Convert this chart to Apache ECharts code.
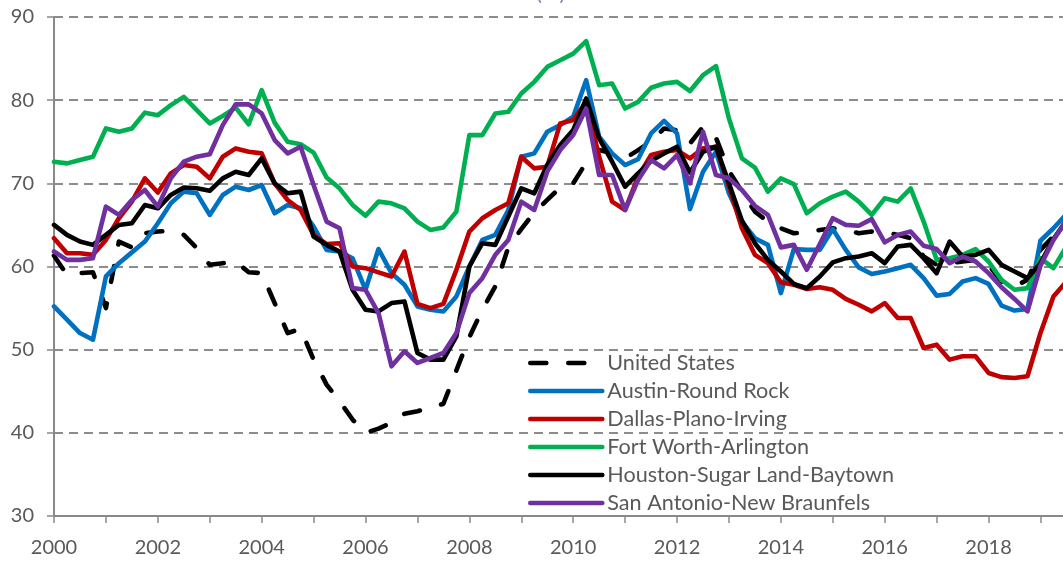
<!DOCTYPE html>
<html>
<head>
<meta charset="utf-8">
<script src="https://cdn.jsdelivr.net/npm/echarts@6/dist/echarts.min.js"></script>
<style>
  html, body { margin: 0; padding: 0; background: #ffffff; }
  #chart { width: 1063px; height: 561px; }
</style>
</head>
<body>
<div id="chart"></div>
<script>
// Quarterly series, 2000 Q1 onward (one value per quarter)
const seriesNames = [
  'United States',
  'Austin-Round Rock',
  'Dallas-Plano-Irving',
  'Fort Worth-Arlington',
  'Houston-Sugar Land-Baytown',
  'San Antonio-New Braunfels'
];

const unitedStates = [
  61.3, 59.0, 59.2, 59.3, 55.0, 63.0, 62.3, 64.0, 64.2, 64.3,
  63.8, 62.2, 60.2, 60.4, 60.6, 59.3, 59.2, 55.6, 52.0, 52.5,
  48.8, 45.8, 43.8, 41.6, 40.0, 40.5, 41.2, 42.3, 42.6, 43.0,
  43.5, 47.5, 51.5, 54.8, 57.6, 62.3, 64.5, 66.5, 68.0, 69.5,
  70.0, 72.5, 74.0, 73.6, 73.0, 74.0, 75.0, 76.6, 76.4, 74.8,
  76.8, 75.5, 71.5, 69.0, 66.6, 65.4, 64.6, 64.0, 64.1, 64.4,
  64.6, 64.4, 64.0, 64.2, 64.1, 63.8, 63.4, 61.2, 60.2, 60.4,
  60.6, 60.8, 60.2, 58.2, 57.6, 58.4, 62.0, 63.6, 65.0
];

const austin = [
  55.2, 53.6, 52.0, 51.2, 58.8, 60.4, 61.7, 63.0, 65.2, 67.6,
  69.0, 68.8, 66.2, 68.6, 69.6, 69.2, 69.8, 66.4, 67.4, 67.0,
  64.8, 62.0, 61.8, 61.0, 57.2, 62.1, 59.2, 57.8, 55.2, 54.8,
  54.6, 56.4, 60.0, 63.2, 63.8, 66.8, 73.2, 73.6, 76.2, 77.0,
  78.0, 82.4, 75.6, 73.6, 72.2, 72.9, 76.0, 77.5, 76.0, 66.9,
  71.4, 73.8, 68.8, 65.4, 63.4, 62.6, 56.8, 62.1, 62.0, 62.0,
  64.5, 62.0, 59.9, 59.1, 59.4, 59.8, 60.2, 58.6, 56.5, 56.7,
  58.2, 58.6, 57.9, 55.3, 54.7, 54.9, 63.1, 64.6, 66.3
];

const dallas = [
  63.4, 61.6, 61.6, 61.4, 63.2, 65.8, 67.8, 70.6, 68.9, 71.2,
  72.2, 72.0, 70.6, 73.2, 74.2, 73.8, 73.6, 70.0, 68.0, 66.8,
  63.8, 62.7, 62.8, 60.0, 59.8, 59.3, 58.8, 61.8, 55.5, 55.0,
  55.5, 59.6, 64.2, 65.8, 66.8, 67.6, 73.2, 71.8, 72.0, 77.2,
  77.6, 79.8, 73.2, 67.8, 66.8, 70.8, 73.4, 73.8, 74.0, 73.0,
  74.2, 74.4, 69.6, 64.6, 61.4, 60.4, 58.1, 57.8, 57.3, 57.5,
  57.2, 56.1, 55.4, 54.6, 55.6, 53.8, 53.8, 50.2, 50.6, 48.8,
  49.2, 49.2, 47.2, 46.7, 46.6, 46.8, 52.0, 56.4, 58.2
];

const fortWorth = [
  72.6, 72.4, 72.8, 73.2, 76.6, 76.2, 76.6, 78.5, 78.2, 79.4,
  80.4, 78.8, 77.2, 78.1, 79.1, 77.1, 81.2, 77.3, 75.0, 74.7,
  73.7, 70.7, 69.4, 67.4, 66.1, 67.8, 67.6, 67.0, 65.4, 64.4,
  64.7, 66.6, 75.8, 75.8, 78.4, 78.6, 80.8, 82.2, 84.0, 84.8,
  85.6, 87.1, 81.8, 82.0, 79.0, 79.8, 81.5, 82.0, 82.2, 81.1,
  83.0, 84.1, 77.8, 73.0, 71.9, 69.0, 70.6, 69.9, 66.4, 67.6,
  68.4, 69.0, 67.8, 66.2, 68.2, 67.8, 69.4, 65.4, 60.8, 61.0,
  61.4, 62.1, 60.6, 58.4, 57.2, 57.4, 61.0, 59.8, 62.4
];

const houston = [
  65.0, 63.8, 63.0, 62.6, 63.8, 65.0, 65.2, 67.4, 67.0, 68.6,
  69.5, 69.4, 69.1, 70.6, 71.4, 71.0, 73.0, 70.0, 68.8, 69.0,
  63.6, 62.6, 61.8, 57.2, 54.8, 54.6, 55.6, 55.8, 49.6, 48.8,
  48.8, 51.6, 60.0, 62.8, 62.6, 66.0, 69.4, 68.8, 72.2, 74.6,
  76.4, 80.2, 75.4, 72.6, 69.6, 71.2, 72.7, 73.6, 74.4, 71.3,
  73.8, 74.4, 70.0, 65.5, 62.8, 60.8, 59.4, 57.9, 57.4, 58.8,
  60.5, 61.0, 61.2, 61.6, 60.4, 62.4, 62.6, 61.0, 59.2, 63.0,
  61.2, 61.4, 62.0, 60.2, 59.4, 58.6, 60.4, 63.3, 65.5
];

const sanAntonio = [
  61.8, 60.8, 60.8, 61.0, 67.2, 66.2, 68.0, 69.2, 67.2, 70.6,
  72.6, 73.2, 73.5, 77.0, 79.5, 79.5, 78.4, 75.2, 73.6, 74.4,
  69.8, 65.4, 64.6, 57.4, 57.2, 54.4, 48.0, 49.8, 48.4, 49.0,
  49.6, 52.0, 56.8, 58.6, 61.4, 63.2, 67.8, 66.8, 71.4, 74.0,
  75.8, 79.0, 71.0, 71.0, 66.8, 70.4, 72.8, 71.8, 73.4, 70.0,
  76.2, 71.0, 70.6, 69.2, 67.3, 66.2, 62.3, 62.6, 59.6, 62.7,
  65.8, 65.0, 64.9, 65.7, 62.9, 63.8, 64.2, 62.5, 62.1, 60.4,
  61.2, 60.6, 59.2, 57.5, 56.1, 54.6, 60.1, 63.2, 65.6
];

const seriesColors = ['#000000', '#0070C0', '#C00000', '#00B050', '#000000', '#7030A0'];
const yTicks = [30, 40, 50, 60, 70, 80, 90];
const startYear = 2000;

// Pair each quarterly value with its fractional-year position
function toPoints(values) {
  return values.map((v, i) => [startYear + i / 4, v]);
}

const allValues = [unitedStates, austin, dallas, fortWorth, houston, sanAntonio];
const fontFamily = 'Lato, "Open Sans", sans-serif';
const textColor = '#595959';
const axisGray = '#898989';
const lineWidth = 4.6;

const chart = echarts.init(document.getElementById('chart'), null, { renderer: 'canvas' });

chart.setOption({
  animation: false,
  backgroundColor: '#ffffff',
  graphic: [{
    type: 'text',
    left: 536,
    top: -18,
    style: {
      text: '(%)',
      fill: '#7F86B8',
      font: '22px ' + fontFamily
    }
  }],
  grid: { left: 54, right: 0, top: 17, bottom: 45, containLabel: false },
  legend: {
    orient: 'vertical',
    left: 528,
    top: 352,
    padding: 0,
    itemWidth: 72,
    itemHeight: 14,
    itemGap: 6,
    data: seriesNames,
    itemStyle: { opacity: 0 },
    lineStyle: { width: lineWidth },
    textStyle: { color: textColor, fontSize: 21.6, fontFamily: fontFamily, lineHeight: 22 }
  },
  xAxis: {
    type: 'value',
    min: 2000,
    max: 2019.434,
    interval: 1,
    axisLine: { show: true, onZero: false, lineStyle: { color: axisGray, width: 2 } },
    axisTick: { show: true, length: 7, lineStyle: { color: axisGray, width: 1.5 } },
    splitLine: { show: false },
    axisLabel: {
      margin: 22,
      color: textColor,
      fontSize: 20,
      fontFamily: fontFamily,
      showMaxLabel: false,
      formatter: function (v) {
        return (Number.isInteger(v) && v % 2 === 0) ? String(v) : '';
      }
    }
  },
  yAxis: {
    type: 'value',
    min: yTicks[0],
    max: yTicks[yTicks.length - 1],
    interval: 10,
    axisLine: { show: true, lineStyle: { color: axisGray, width: 2 } },
    axisTick: { show: true, length: 7, lineStyle: { color: axisGray, width: 1.5 } },
    splitLine: { show: true, lineStyle: { color: '#8c8c8c', width: 2, type: [9, 6] } },
    axisLabel: { margin: 20, color: textColor, fontSize: 20, fontFamily: fontFamily }
  },
  series: seriesNames.map((name, i) => ({
    name: name,
    type: 'line',
    data: toPoints(allValues[i]),
    symbol: 'none',
    clip: true,
    z: 2 + i,
    color: seriesColors[i],
    lineStyle: {
      color: seriesColors[i],
      width: lineWidth,
      join: 'round',
      cap: 'round',
      type: i === 0 ? [16, 22] : 'solid'
    }
  }))
});
</script>
</body>
</html>
